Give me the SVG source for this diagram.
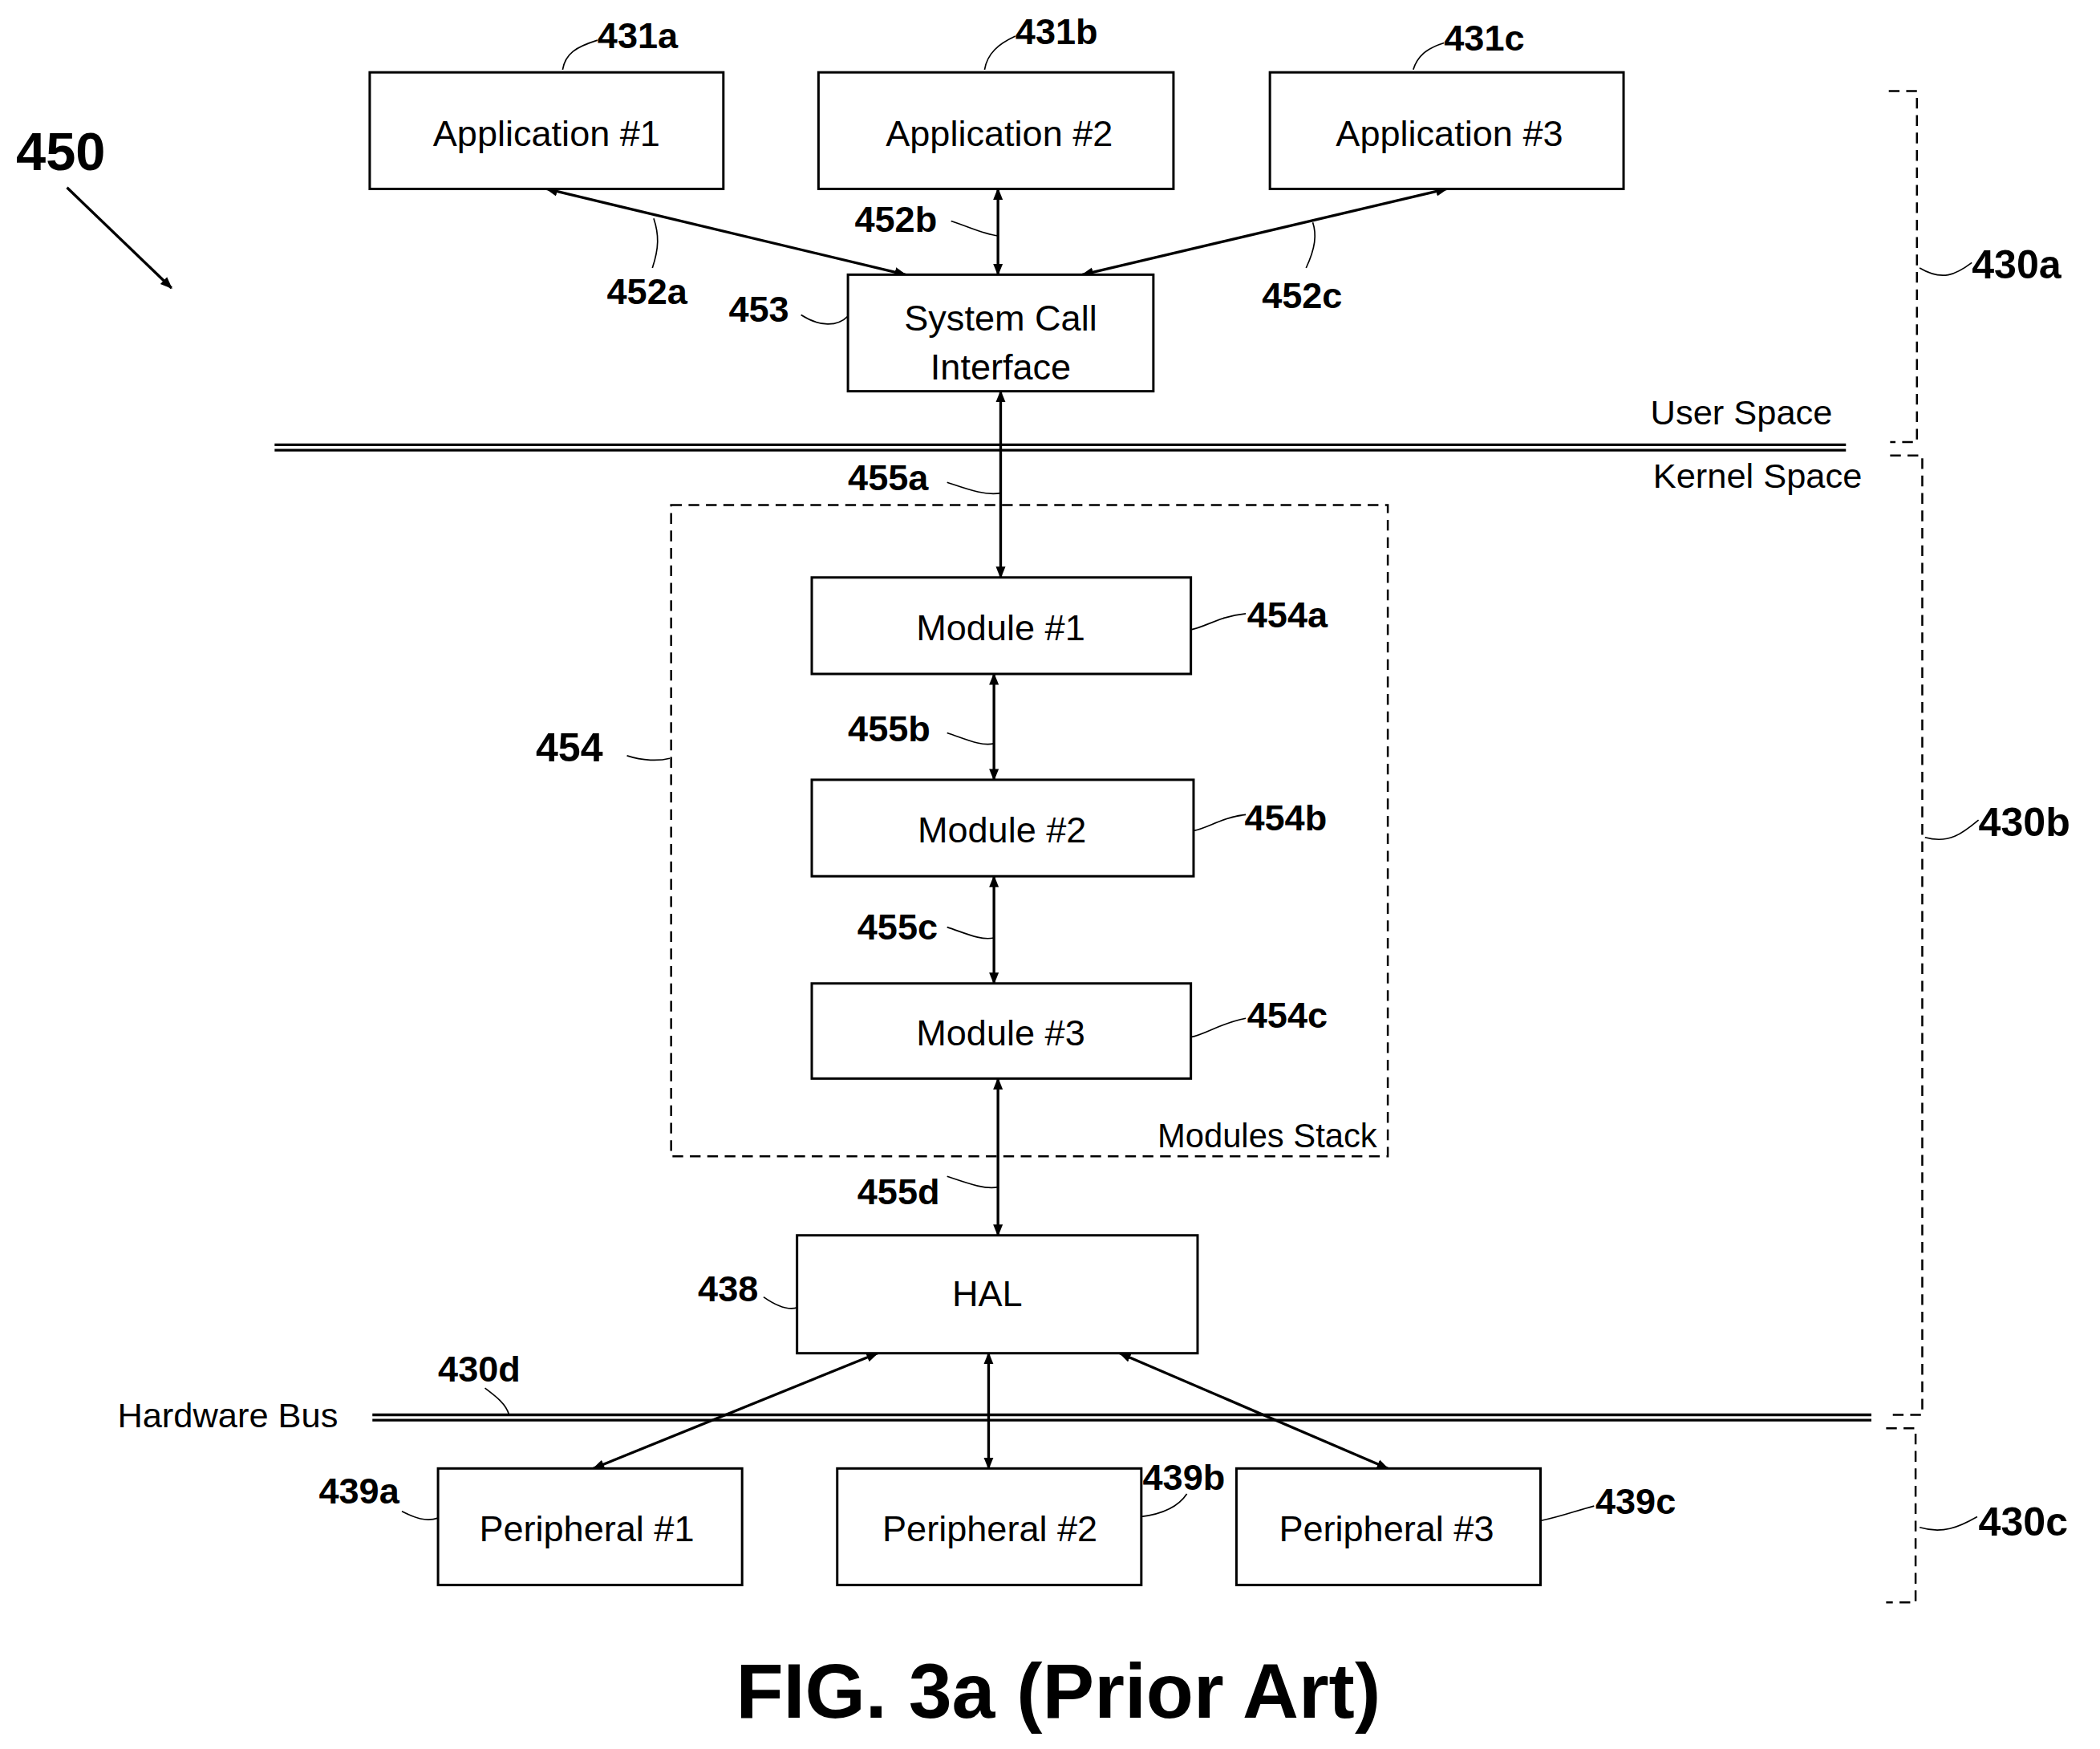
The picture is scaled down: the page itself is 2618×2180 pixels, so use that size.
<svg xmlns="http://www.w3.org/2000/svg" width="2618" height="2180" viewBox="0 0 2618 2180">
<style>
.box{fill:#fff;stroke:#000;stroke-width:1.8}
.t{font-family:"Liberation Sans",Arial,sans-serif;font-size:27px;text-anchor:middle;fill:#000}
.lb{font-family:"Liberation Sans",Arial,sans-serif;font-size:27px;font-weight:bold;fill:#000}
.c{fill:none;stroke:#000;stroke-width:2}
.ld{fill:none;stroke:#000;stroke-width:1}
.dash{fill:none;stroke:#000;stroke-width:1.5;stroke-dasharray:8 5}
</style>
<defs>
<marker id="a" viewBox="0 0 10 10" refX="9" refY="5" markerWidth="9" markerHeight="9" markerUnits="userSpaceOnUse" orient="auto-start-reverse"><path d="M0,1 L10,5 L0,9 z" fill="#000"/></marker>
</defs>
<rect width="2618" height="2180" fill="#fff"/>
<g transform="scale(1.67)">
<g id="frame">
<rect class="dash" x="501" y="377" width="535" height="486"/>
<text class="t" x="1028" y="856" style="text-anchor:end;font-size:25px">Modules Stack</text>
<line x1="205" y1="332" x2="1378" y2="332" stroke="#000" stroke-width="2"/>
<line x1="205" y1="336" x2="1378" y2="336" stroke="#000" stroke-width="2"/>
<text class="t" x="1300" y="317" style="font-size:26px">User Space</text>
<text class="t" x="1312" y="364" style="font-size:26px">Kernel Space</text>
<line x1="278" y1="1056" x2="1397" y2="1056" stroke="#000" stroke-width="2"/>
<line x1="278" y1="1060" x2="1397" y2="1060" stroke="#000" stroke-width="2"/>
<text class="t" x="170" y="1065" style="font-size:26px">Hardware Bus</text>
<path class="dash" d="M1410,68 H1431 V330 H1411"/>
<path class="dash" d="M1411,340 H1435 V1056 H1411"/>
<path class="dash" d="M1408,1066 H1430 V1196 H1408"/>
<text class="lb" x="1472" y="208" style="font-size:30px">430a</text>
<text class="lb" x="1477" y="624" style="font-size:30px">430b</text>
<text class="lb" x="1477" y="1146" style="font-size:30px">430c</text>
<path class="ld" d="M1433,200 C1450,210 1460,205 1472,196"/>
<path class="ld" d="M1437,625 C1455,630 1465,622 1477,612"/>
<path class="ld" d="M1433,1140 C1450,1145 1462,1140 1476,1132"/>
<text class="lb" x="12" y="127" style="font-size:40px">450</text>
<line x1="50" y1="140" x2="128" y2="215" stroke="#000" stroke-width="2" marker-end="url(#a)"/>
<text class="lb" x="790" y="1282" style="font-size:58px;text-anchor:middle">FIG. 3a (Prior Art)</text>
</g>
<g id="connectors">
<line class="c" x1="408" y1="141" x2="676" y2="205" marker-start="url(#a)" marker-end="url(#a)"/>
<line class="c" x1="745" y1="141" x2="745" y2="205" marker-start="url(#a)" marker-end="url(#a)"/>
<line class="c" x1="1080" y1="141" x2="808" y2="205" marker-start="url(#a)" marker-end="url(#a)"/>
<line class="c" x1="747" y1="292" x2="747" y2="431" marker-start="url(#a)" marker-end="url(#a)"/>
<line class="c" x1="742" y1="503" x2="742" y2="582" marker-start="url(#a)" marker-end="url(#a)"/>
<line class="c" x1="742" y1="654" x2="742" y2="734" marker-start="url(#a)" marker-end="url(#a)"/>
<line class="c" x1="745" y1="805" x2="745" y2="922" marker-start="url(#a)" marker-end="url(#a)"/>
<line class="c" x1="655" y1="1010" x2="443" y2="1096" marker-start="url(#a)" marker-end="url(#a)"/>
<line class="c" x1="738" y1="1010" x2="738" y2="1096" marker-start="url(#a)" marker-end="url(#a)"/>
<line class="c" x1="836" y1="1010" x2="1036" y2="1096" marker-start="url(#a)" marker-end="url(#a)"/>
</g>
<g id="leaders">
<path class="ld" d="M420,52 C422,40 430,35 446,30"/>
<path class="ld" d="M735,52 C737,40 745,33 758,27"/>
<path class="ld" d="M1055,52 C1058,42 1065,36 1078,32"/>
<path class="ld" d="M487,200 C492,185 492,175 488,163"/>
<path class="ld" d="M710,165 C725,170 735,175 745,176"/>
<path class="ld" d="M975,200 C982,185 983,175 980,166"/>
<path class="ld" d="M598,235 C612,244 625,244 633,236"/>
<path class="ld" d="M707,360 C722,365 735,370 747,368"/>
<path class="ld" d="M889,470 C900,468 910,460 930,458"/>
<path class="ld" d="M707,547 C722,552 732,557 742,555"/>
<path class="ld" d="M891,620 C902,618 912,610 930,608"/>
<path class="ld" d="M707,692 C722,697 732,702 742,700"/>
<path class="ld" d="M889,774 C900,772 910,764 930,760"/>
<path class="ld" d="M707,878 C722,883 735,888 745,886"/>
<path class="ld" d="M468,564 C480,568 492,568 500,566"/>
<path class="ld" d="M570,968 C580,975 588,978 595,976"/>
<path class="ld" d="M362,1036 C370,1042 378,1048 380,1056"/>
<path class="ld" d="M300,1128 C310,1133 318,1136 327,1133"/>
<path class="ld" d="M852,1132 C868,1130 880,1124 886,1115"/>
<path class="ld" d="M1150,1135 C1165,1132 1175,1128 1190,1124"/>
</g>
<g id="app1"><rect class="box" x="276" y="54" width="264" height="87"/><text class="t" x="408" y="109">Application #1</text><text class="lb" x="446" y="36">431a</text></g>
<g id="app2"><rect class="box" x="611" y="54" width="265" height="87"/><text class="t" x="746" y="109">Application #2</text><text class="lb" x="758" y="33">431b</text></g>
<g id="app3"><rect class="box" x="948" y="54" width="264" height="87"/><text class="t" x="1082" y="109">Application #3</text><text class="lb" x="1078" y="38">431c</text></g>
<g id="sci"><rect class="box" x="633" y="205" width="228" height="87"/><text class="t" x="747" y="247">System Call</text><text class="t" x="747" y="283">Interface</text><text class="lb" x="544" y="240">453</text></g>
<g id="l452"><text class="lb" x="453" y="227">452a</text><text class="lb" x="638" y="173">452b</text><text class="lb" x="942" y="230">452c</text><text class="lb" x="633" y="366">455a</text><text class="lb" x="633" y="553">455b</text><text class="lb" x="640" y="701">455c</text><text class="lb" x="640" y="899">455d</text></g>
<g id="mod1"><rect class="box" x="606" y="431" width="283" height="72"/><text class="t" x="747" y="478">Module #1</text><text class="lb" x="931" y="468">454a</text></g>
<g id="mod2"><rect class="box" x="606" y="582" width="285" height="72"/><text class="t" x="748" y="629">Module #2</text><text class="lb" x="929" y="620">454b</text></g>
<g id="mod3"><rect class="box" x="606" y="734" width="283" height="71"/><text class="t" x="747" y="780">Module #3</text><text class="lb" x="931" y="767">454c</text></g>
<g id="stack"><text class="lb" x="400" y="568" style="font-size:30px">454</text></g>
<g id="hal"><rect class="box" x="595" y="922" width="299" height="88"/><text class="t" x="737" y="975">HAL</text><text class="lb" x="521" y="971">438</text></g>
<g id="bus"><text class="lb" x="327" y="1031">430d</text></g>
<g id="p1"><rect class="box" x="327" y="1096" width="227" height="87"/><text class="t" x="438" y="1150">Peripheral #1</text><text class="lb" x="238" y="1122">439a</text></g>
<g id="p2"><rect class="box" x="625" y="1096" width="227" height="87"/><text class="t" x="739" y="1150">Peripheral #2</text><text class="lb" x="853" y="1112">439b</text></g>
<g id="p3"><rect class="box" x="923" y="1096" width="227" height="87"/><text class="t" x="1035" y="1150">Peripheral #3</text><text class="lb" x="1191" y="1130">439c</text></g>
</g>
</svg>
